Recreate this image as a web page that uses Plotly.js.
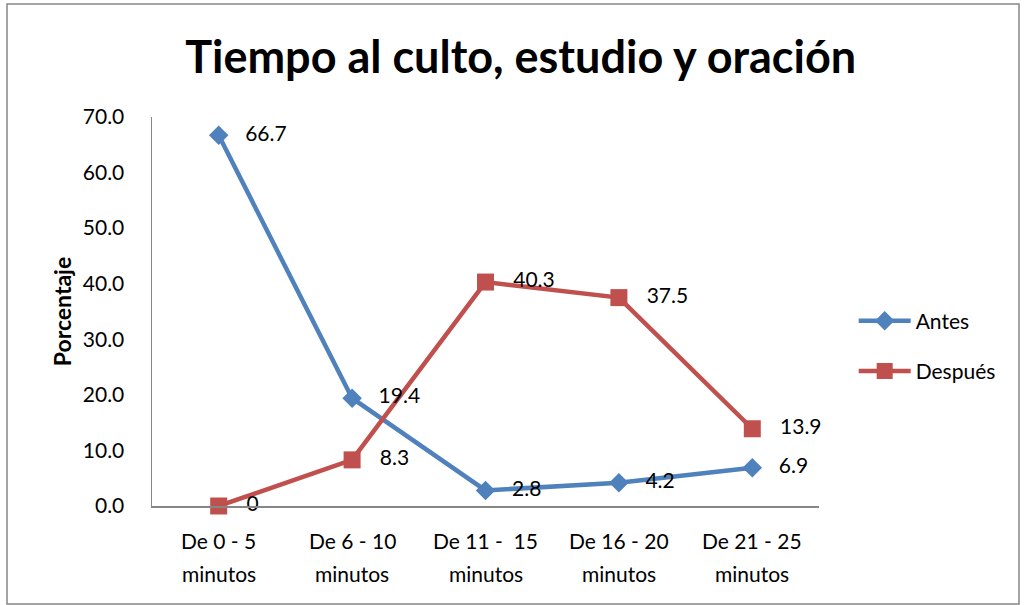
<!DOCTYPE html>
<html><head><meta charset="utf-8">
<script src="https://cdn.plot.ly/plotly-3.0.1.min.js"></script>
<style>html,body{margin:0;padding:0;background:#fff}#chart{width:1025px;height:605px}</style>
</head><body><div id="chart"></div>
<script>
const categories = ["De 0 - 5<br>minutos","De 6 - 10<br>minutos","De 11 -  15<br>minutos","De 16 - 20<br>minutos","De 21 - 25<br>minutos"];
const antes = [66.7, 19.4, 2.8, 4.2, 6.9];
const despues = [0, 8.3, 40.3, 37.5, 13.9];
const antesLabels = ["66.7","19.4","2.8","4.2","6.9"];
const despuesLabels = ["0","8.3","40.3","37.5","13.9"];
const yTicks = [0,10,20,30,40,50,60,70];

const F = "Lato, Calibri, 'Open Sans', sans-serif";
const pad = s => "\u00a0\u00a0\u00a0" + s;
const traces = [
  {x: categories, y: antes, name: "Antes", legendgroup: "a", type: "scatter", mode: "lines+markers",
   cliponaxis: false,
   line: {color: "#4F81BD", width: 4.5}, marker: {symbol: "diamond", size: 15, color: "#4F81BD"}},
  {x: categories, y: despues, name: "Después", legendgroup: "b", type: "scatter", mode: "lines+markers",
   cliponaxis: false,
   line: {color: "#C0504D", width: 4.5}, marker: {symbol: "square", size: 17, color: "#C0504D"}},
  // data labels drawn on top of all lines
  {x: categories, y: antes, type: "scatter", mode: "markers+text", showlegend: false, cliponaxis: false,
   marker: {size: 15, opacity: 0}, hoverinfo: "skip",
   text: antesLabels.map(pad), textposition: "middle right", textfont: {size: 21, color: "#000", family: F}},
  {x: categories, y: despues, type: "scatter", mode: "markers+text", showlegend: false, cliponaxis: false,
   marker: {size: 17, opacity: 0}, hoverinfo: "skip",
   text: despuesLabels.map(pad), textposition: "middle right", textfont: {size: 21, color: "#000", family: F}}
];
// two-line category labels drawn as annotations for Excel-like line spacing
const annotations = [];
categories.forEach((c, i) => {
  c.split("<br>").forEach((line, j) => {
    annotations.push({x: c, y: 0, xref: "x", yref: "y", text: line, showarrow: false,
      yshift: -34 - 33 * j, yanchor: "middle", font: {size: 21, family: F, color: "#000"}});
  });
});
const layout = {
  width: 1025, height: 605,
  margin: {l: 152, r: 206, t: 117, b: 99},
  paper_bgcolor: "#fff", plot_bgcolor: "#fff",
  font: {family: F, color: "#000", size: 21},
  title: {text: "<b>Tiempo al culto, estudio y oración</b>", font: {size: 45, family: F, color: "#000"},
          x: 0.508, xanchor: "center", y: 1 - 57/605, yanchor: "middle"},
  xaxis: {type: "category", range: [-0.5, 4.5], showgrid: false, zeroline: false, showticklabels: false,
          showline: true, linecolor: "#868686", linewidth: 1.5, ticks: ""},
  yaxis: {range: [0, 70], tickvals: yTicks, tickformat: ".1f", showgrid: false, zeroline: false,
          showline: true, linecolor: "#868686", linewidth: 1.5, ticks: "", tickfont: {size: 21},
          ticklabelstandoff: 22,
          title: {text: "<b>Porcentaje</b>", font: {size: 23}, standoff: 4}},
  annotations: annotations,
  legend: {x: 1.052, xanchor: "left", xref: "paper", y: 0.411, yanchor: "middle", font: {size: 21},
           itemwidth: 52, traceorder: "grouped", tracegroupgap: 20, bgcolor: "rgba(0,0,0,0)"},
  showlegend: true,
  shapes: [{type: "rect", xref: "paper", yref: "paper",
            x0: -145/667, x1: (1019-152)/667, y0: -98/389, y1: (506-4)/389,
            line: {color: "#868686", width: 1.5}, fillcolor: "rgba(0,0,0,0)"}]
};
Plotly.newPlot("chart", traces, layout, {displayModeBar: false, staticPlot: true});
</script></body></html>
